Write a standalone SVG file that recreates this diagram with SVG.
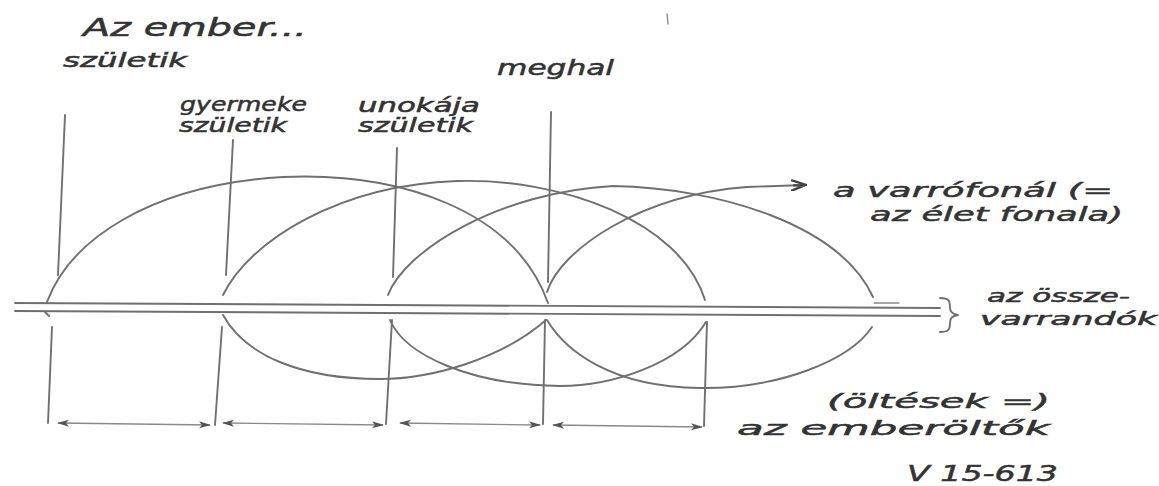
<svg xmlns="http://www.w3.org/2000/svg" width="1159" height="486" viewBox="0 0 1159 486">
<style>
  .ln { fill: none; stroke: #707070; stroke-width: 1.9; stroke-linecap: round; stroke-linejoin: round; }
  .th { fill: none; stroke: #8a8a8a; stroke-width: 1.4; stroke-linecap: round; }
  .dim { fill: none; stroke: #8a8a8a; stroke-width: 1.3; marker-start: url(#ah); marker-end: url(#ah); }
  .tx { font-family: "DejaVu Sans", "Liberation Sans", sans-serif; fill: #333333; stroke: #333333; stroke-width: 0.5; font-style: italic; }
</style>
<defs>
  <marker id="ah" viewBox="0 0 12 8" refX="11" refY="4" markerWidth="12" markerHeight="8" markerUnits="userSpaceOnUse" orient="auto-start-reverse">
    <path d="M0,0.5 L12,4 L0,7.5 L3,4 Z" fill="#555"/>
  </marker>
  <marker id="ah2" viewBox="0 0 16 12" refX="14" refY="6" markerWidth="16" markerHeight="12" markerUnits="userSpaceOnUse" orient="auto">
    <path d="M1,1 L15,6 L1,11 M3,6 L15,6" fill="none" stroke="#444" stroke-width="2.4" stroke-linecap="round"/>
  </marker>
</defs>
<rect width="1159" height="486" fill="#ffffff"/>

<g id="axis">
  <path class="ln" d="M15,303 L940,308"/>
  <path class="ln" d="M15,311 L940,316"/>
  <path class="ln" d="M940,298 C950,298 950,302 950,308 C950,312 952,314 958,315 C952,316 950,318 950,323 C950,330 948,332 940,332"/>
  <path class="th" d="M874,303 L899,303"/>
</g>

<g id="markers">
  <path class="ln" d="M65,115 L58,275"/>
  <path class="ln" d="M233,140 L226,275"/>
  <path class="ln" d="M397,148 L393,277"/>
  <path class="ln" d="M551,112 L548,282"/>
  <path class="ln" d="M52,327 L48,423"/>
  <path class="ln" d="M222,327 L215,425"/>
  <path class="ln" d="M392,320 L386,424"/>
  <path class="ln" d="M545,320 L543,424"/>
  <path class="ln" d="M707,322 L704,426"/>
  <path class="ln" d="M45,312 L49,316"/>
  <path class="th" d="M667,14 L668,24"/>
</g>

<g id="connectors">
  <path class="ln" d="M47,302 C70,240 150,185 283,177 C400,172 515,210 548,303"/>
  <path class="ln" d="M223,295 C250,240 340,185 457,181 C560,178 680,220 705,300"/>
  <path class="ln" d="M388,295 C405,250 500,192 613,186 C720,188 840,225 873,297"/>
  <path class="ln" d="M547,292 C560,250 640,195 747,187 L805,185" marker-end="url(#ah2)"/>
  <path class="ln" d="M223,315 C245,355 300,379 380,379 C430,379 500,360 546,320"/>
  <path class="ln" d="M390,320 C405,355 470,385 560,386 C610,386 680,365 706,322"/>
  <path class="ln" d="M547,320 C565,350 610,387 700,388 C780,389 850,360 872,327"/>
  <path class="dim" d="M58,423 L210,425"/>
  <path class="dim" d="M223,423 L383,425"/>
  <path class="dim" d="M400,423 L540,425"/>
  <path class="dim" d="M553,425 L702,427"/>
</g>

<g id="title"><text class="tx" x="83" y="36" font-size="24" textLength="224" lengthAdjust="spacingAndGlyphs">Az ember...</text></g>
<g id="label-born"><text class="tx" x="63" y="67" font-size="19" textLength="124" lengthAdjust="spacingAndGlyphs">születik</text></g>
<g id="label-child">
  <text class="tx" x="180" y="111" font-size="19" textLength="127" lengthAdjust="spacingAndGlyphs">gyermeke</text>
  <text class="tx" x="179" y="132" font-size="19" textLength="108" lengthAdjust="spacingAndGlyphs">születik</text>
</g>
<g id="label-grandchild">
  <text class="tx" x="358" y="112" font-size="19" textLength="122" lengthAdjust="spacingAndGlyphs">unokája</text>
  <text class="tx" x="358" y="132" font-size="19" textLength="115" lengthAdjust="spacingAndGlyphs">születik</text>
</g>
<g id="label-dies"><text class="tx" x="497" y="75" font-size="21" textLength="117" lengthAdjust="spacingAndGlyphs">meghal</text></g>
<g id="label-thread">
  <text class="tx" x="833" y="197" font-size="20" textLength="280" lengthAdjust="spacingAndGlyphs">a varrófonál (=</text>
  <text class="tx" x="870" y="221" font-size="20" textLength="253" lengthAdjust="spacingAndGlyphs">az élet fonala)</text>
</g>
<g id="label-sewn">
  <text class="tx" x="987" y="302" font-size="17" textLength="143" lengthAdjust="spacingAndGlyphs">az össze-</text>
  <text class="tx" x="980" y="325" font-size="17" textLength="177" lengthAdjust="spacingAndGlyphs">varrandók</text>
</g>
<g id="label-generation">
  <text class="tx" x="827" y="408" font-size="20" textLength="223" lengthAdjust="spacingAndGlyphs">(öltések =)</text>
  <text class="tx" x="737" y="435" font-size="20" textLength="313" lengthAdjust="spacingAndGlyphs">az emberöltők</text>
</g>
<g id="label-ref"><text class="tx" x="907" y="481" font-size="22" textLength="151" lengthAdjust="spacingAndGlyphs">V 15-613</text></g>
</svg>
